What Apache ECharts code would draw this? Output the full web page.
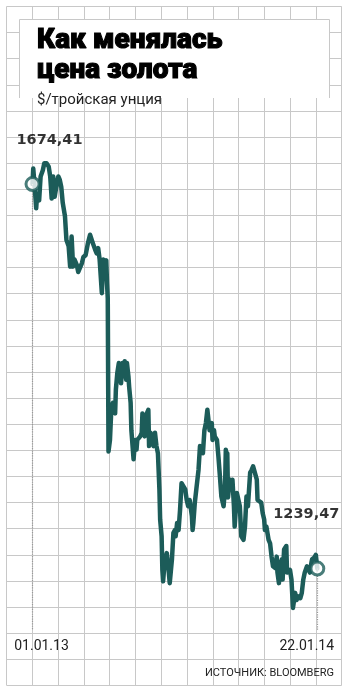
<!DOCTYPE html>
<html><head><meta charset="utf-8">
<script src="https://cdn.jsdelivr.net/npm/echarts@6/dist/echarts.min.js"></script>
<style>html,body{margin:0;padding:0;background:#fff}#c{width:352px;height:697px}</style>
</head><body><div id="c"></div>
<script>
const titleLines = ['Как менялась', 'цена золота'];
const subtitle = '$/тройская унция';
const sourceText = 'ИСТОЧНИК: BLOOMBERG';
const xTickLabels = ['01.01.13', '22.01.14'];
// days since 01.01.13
const dayOffsets = [
  0,1,3,5,6,9,11,14,16,19,
  22,24,26,28,30,33,35,37,39,41,
  44,46,49,51,53,55,57,60,62,64,
  67,69,72,75,78,80,82,85,87,89,
  91,94,96,98,100,101,102,103,105,107,
  109,112,113,115,117,119,120,122,124,125,
  127,128,130,131,133,134,137,138,139,141,
  142,146,148,149,151,152,155,157,158,160,
  162,164,166,168,170,172,173,175,176,177,
  179,182,184,186,189,191,193,194,196,198,
  200,202,204,207,209,211,213,216,217,218,
  220,222,225,227,229,231,233,235,237,239,
  240,243,244,246,247,250,252,254,256,259,
  261,262,263,264,265,266,268,269,271,273,
  274,277,279,281,283,286,288,290,292,295,
  297,299,301,304,305,307,310,312,314,315,
  317,320,322,324,326,329,331,332,334,335,
  338,339,341,344,345,347,349,351,353,354,
  356,358,360,363,365,367,369,372,374,376,
  378,379,382,384,385,386
];
// $ per troy ounce
const prices = [
  1674.41,1692,1671,1647,1660,1656,1683,1690,1698,1698,
  1694,1683,1658,1683,1660,1675,1683,1679,1671,1653,
  1638,1611,1604,1581,1615,1581,1589,1583,1575,1577,
  1585,1592,1594,1607,1617,1615,1607,1600,1596,1602,
  1589,1551,1589,1585,1588,1562,1545,1372,1385,1423,
  1427,1415,1442,1461,1472,1468,1449,1472,1457,1474,
  1453,1472,1457,1445,1427,1396,1363,1361,1385,1374,
  1385,1389,1393,1415,1415,1389,1415,1419,1378,1393,
  1393,1378,1393,1378,1370,1329,1295,1276,1238,1225,
  1246,1257,1242,1223,1250,1280,1283,1276,1291,1283,
  1306,1336,1334,1329,1317,1310,1317,1299,1283,1291,
  1314,1329,1351,1378,1374,1370,1396,1404,1419,1419,
  1396,1404,1385,1396,1389,1385,1366,1344,1321,1310,
  1332,1374,1366,1370,1320,1329,1340,1332,1340,1310,
  1287,1325,1325,1310,1276,1272,1287,1321,1310,1348,
  1351,1355,1355,1340,1317,1317,1314,1302,1295,1283,
  1287,1272,1268,1253,1242,1240,1253,1235,1223,1242,
  1250,1227,1261,1265,1235,1235,1238,1227,1195,1197,
  1212,1204,1208,1206,1212,1227,1235,1242,1242,1235,
  1246,1250,1252,1255,1255,1239.47
];

const Y_MIN = 1170, Y_MAX = 1800;
const GRID_COLOR = '#c8c8c8';
const LINE_COLOR = '#1c5c59';
const last = prices.length - 1;
const fmt = v => v.toFixed(2).replace('.', ',');
const lineData = dayOffsets.map((d, i) => [d, prices[i]]);
const titleStyle = {fontFamily: 'Roboto', fontWeight: 900, fontSize: 28, fill: '#000',
  stroke: '#000', lineWidth: 1.1, textVerticalAlign: 'middle'};

const chart = echarts.init(document.getElementById('c'), null, {renderer: 'canvas'});
chart.setOption({
  animation: false,
  backgroundColor: '#fff',
  grid: [
    {left: 6.5, right: 10.3, top: 6.5, bottom: 11.7, show: false},
    {left: 32.5, right: 34.7, top: 73, bottom: 67, show: false}
  ],
  xAxis: [
    {gridIndex: 0, type: 'value', min: 0, max: 13, interval: 1,
     axisLine: {show: false}, axisTick: {show: false}, axisLabel: {show: false},
     splitLine: {show: true, lineStyle: {color: GRID_COLOR, width: 1}}},
    {gridIndex: 1, type: 'value', min: dayOffsets[0], max: dayOffsets[last],
     axisLine: {show: false}, axisTick: {show: false}, splitLine: {show: false},
     axisLabel: {show: true, customValues: [dayOffsets[0], dayOffsets[last]], margin: 9,
       formatter: v => v === dayOffsets[0] ? '{a|' + xTickLabels[0] + '}' : '{b|' + xTickLabels[1] + '}',
       rich: {
         a: {fontFamily: 'Roboto', fontSize: 14, color: '#222', padding: [0, 0, 0, 18]},
         b: {fontFamily: 'Roboto', fontSize: 14, color: '#222', padding: [0, 21, 0, 0]}
       }}}
  ],
  yAxis: [
    {gridIndex: 0, type: 'value', min: 0, max: 26, interval: 1,
     axisLine: {show: false}, axisTick: {show: false}, axisLabel: {show: false},
     splitLine: {show: true, lineStyle: {color: GRID_COLOR, width: 1}}},
    {gridIndex: 1, type: 'value', min: Y_MIN, max: Y_MAX, show: false, splitLine: {show: false}}
  ],
  series: [
    {type: 'line', xAxisIndex: 1, yAxisIndex: 1, data: lineData, showSymbol: false,
     lineStyle: {color: LINE_COLOR, width: 4.5, join: 'round', cap: 'round'}, z: 3,
     markLine: {silent: true, symbol: 'none', label: {show: false},
       lineStyle: {color: '#999', type: 'dotted', width: 1.2},
       data: [
         [{coord: [dayOffsets[0], prices[0]]}, {coord: [dayOffsets[0], Y_MIN]}],
         [{coord: [dayOffsets[last], prices[last]]}, {coord: [dayOffsets[last], Y_MIN]}]
       ]}},
    {type: 'scatter', xAxisIndex: 1, yAxisIndex: 1, z: 5, symbolSize: 13,
     itemStyle: {color: '#fff', borderColor: LINE_COLOR, borderWidth: 3},
     data: [
       {value: [dayOffsets[0], prices[0]],
        label: {show: true, position: 'top', distance: 28, offset: [17, 0], formatter: fmt(prices[0])}},
       {value: [dayOffsets[last], prices[last]],
        label: {show: true, position: 'top', distance: 39, offset: [-11, 0], formatter: fmt(prices[last])}}
     ],
     label: {fontFamily: 'DejaVu Sans', fontWeight: 'bold', fontSize: 14.5, color: '#000'}}
  ],
  graphic: [
    {type: 'rect', shape: {x: 19, y: 19, width: 310, height: 79}, style: {fill: '#fff'}, z: 10},
    {type: 'polyline', shape: {points: [[19.5, 98], [19.5, 19.5], [329.5, 19.5], [329.5, 98]]},
     style: {stroke: GRID_COLOR, lineWidth: 1, fill: null}, z: 11},
    {type: 'text', x: 37, y: 41, z: 12, style: Object.assign({text: titleLines[0]}, titleStyle)},
    {type: 'text', x: 37, y: 71, z: 12, style: Object.assign({text: titleLines[1]}, titleStyle)},
    {type: 'text', x: 37, y: 100, z: 12, style: {text: subtitle, fontFamily: 'Roboto',
      fontSize: 15, fill: '#222', textVerticalAlign: 'middle'}},
    {type: 'text', x: 334, y: 673, z: 12, style: {text: sourceText, fontFamily: 'Roboto',
      fontSize: 11, fill: '#222', textAlign: 'right', textVerticalAlign: 'middle'}}
  ]
});
</script></body></html>
